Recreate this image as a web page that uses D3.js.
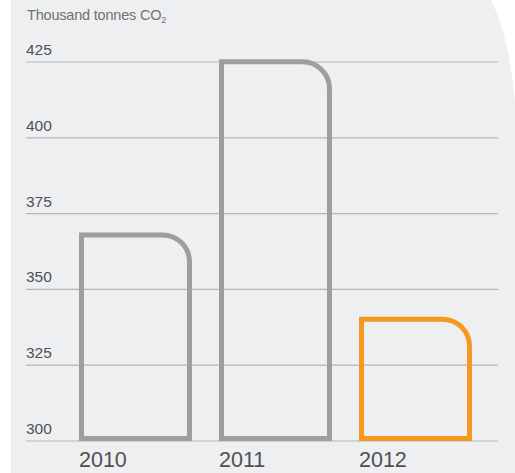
<!DOCTYPE html>
<html>
<head>
<meta charset="utf-8">
<script src="https://cdn.jsdelivr.net/npm/d3@7"></script>
<style>
  html, body { margin: 0; padding: 0; background: #ffffff; }
  svg { display: block; }
  text { font-family: "Liberation Sans", Arial, Helvetica, sans-serif; }
</style>
</head>
<body>
<script>
// CO2 emissions per year, thousand tonnes
const years = ["2010", "2011", "2012"];
const emissions = [368.8, 425.9, 341];
const barColors = ["#9d9ea0", "#9d9ea0", "#f7991f"];
const tickValues = [300, 325, 350, 375, 400, 425];
const unitLabel = "Thousand tonnes CO";
const unitSub = "2";

const W = 515, H = 473;
const svg = d3.select("body").append("svg").attr("width", W).attr("height", H);

// panel background with a curved top-right edge
svg.append("path")
  .attr("d", "M11,0 H491 C504,26 512,62 516,115 V473 H11 Z")
  .attr("fill", "#eeeff1");

const y = d3.scaleLinear().domain([300, 425]).range([441, 62]);
const x = d3.scaleBand().domain(years).range([65, 486]).paddingInner(0.193).paddingOuter(0.1);

// gridlines + labels
const grid = svg.append("g");
grid.selectAll("line").data(tickValues).join("line")
  .attr("x1", 26).attr("x2", 498)
  .attr("y1", d => y(d)).attr("y2", d => y(d))
  .attr("stroke", "#b4b5b7").attr("stroke-width", 1.2);
grid.selectAll("text").data(tickValues).join("text")
  .attr("x", 26).attr("y", d => y(d) - 7)
  .attr("font-size", 15.5).attr("fill", "#4f5052")
  .text(d => d);

// unit label
const t = svg.append("text").attr("x", 27).attr("y", 20)
  .attr("font-size", 14.5).attr("fill", "#707173").attr("letter-spacing", "-0.2");
t.append("tspan").text(unitLabel);
t.append("tspan").attr("font-size", 9).attr("dy", 3).text(unitSub);

// bars: outline drawn inside the bar, rounded top-right corner
const sw = 5, r = 27;
function barPath(d, i) {
  const x0 = x(years[i]) + sw / 2;
  const x1 = x(years[i]) + x.bandwidth() - sw / 2;
  const yt = y(d) + sw / 2;
  const yb = y(300) - sw / 2;
  return `M${x0},${yb} L${x0},${yt} L${x1 - r},${yt} A${r},${r} 0 0 1 ${x1},${yt + r} L${x1},${yb} Z`;
}
svg.append("g").selectAll("path").data(emissions).join("path")
  .attr("d", barPath)
  .attr("fill", "none")
  .attr("stroke", (d, i) => barColors[i])
  .attr("stroke-width", sw)
  .attr("stroke-linejoin", "miter");

// year labels
svg.append("g").selectAll("text").data(years).join("text")
  .attr("x", d => x(d))
  .attr("y", 467)
  .attr("font-size", 21.5).attr("fill", "#4f5052")
  .text(d => d);
</script>
</body>
</html>
